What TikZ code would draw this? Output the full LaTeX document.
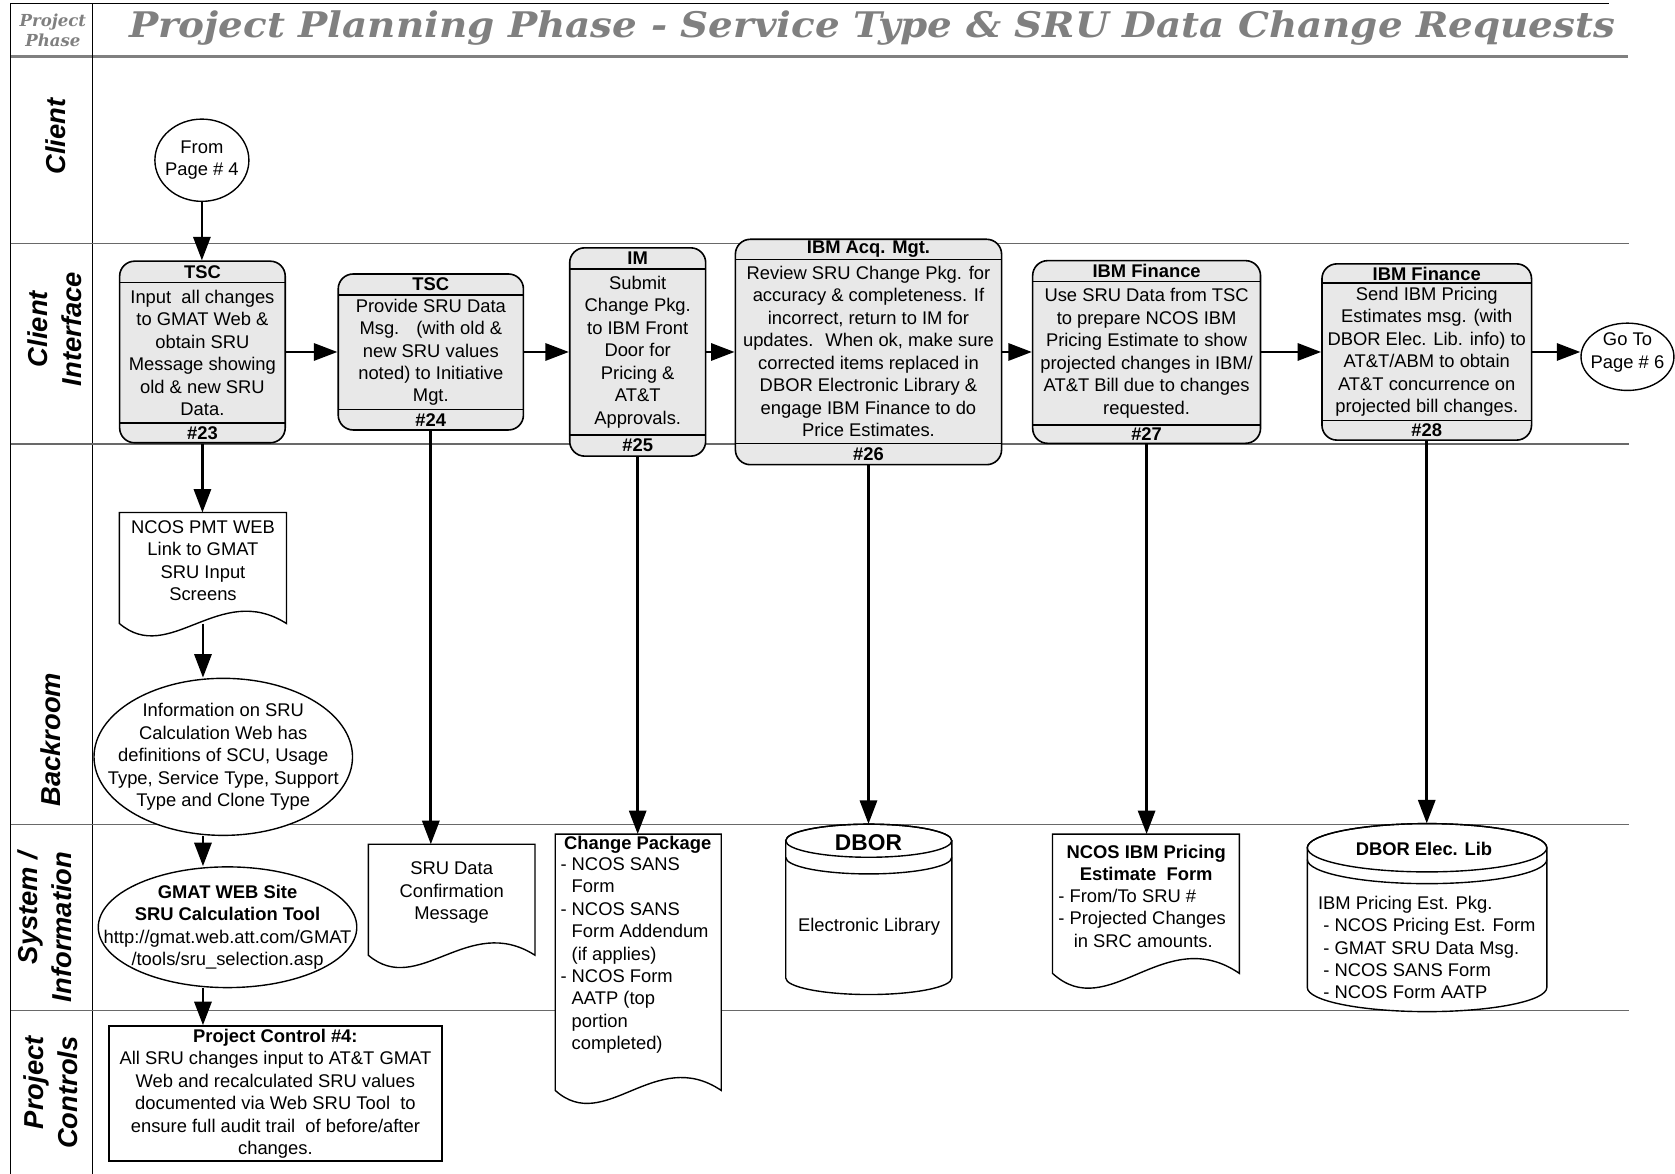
\documentclass[tikz,border=0pt]{standalone}
\usepackage{fontspec}
\setmainfont{Liberation Sans}
\newfontfamily\titlefont{DejaVu Serif}
\usepackage{xcolor}
\usepackage{graphicx}
\usetikzlibrary{
    arrows.meta,
    calc,
    fit,
    positioning,
    shapes.geometric
}
\definecolor{boxgray}{RGB}{232,232,232}
\definecolor{titlegray}{RGB}{128,128,128}
\definecolor{lanegray}{RGB}{105,105,105}
\newcommand{\procbox}[9]{
    \node[procbox, fit={(#2, #3) (#4, #5)}] (p#1) {};
    \draw[boxline] (#2, #6) -- (#4, #6) (#2, #7) -- (#4, #7);
    \node[txtbold] (p#1-h) at ({(#2+#4)/2}, {(#3+#6)/2}) {#8};
    \node[txt, align=center] (p#1-b) at ({(#2+#4)/2}, {(#6+#7)/2}) {#9};
    \node[txtbold] (p#1-n) at ({(#2+#4)/2}, {(#7+#5)/2}) {\##1};
}
\newcommand{\docshape}[6]{
    \node[fit={(#2, #3) (#4, #5)}, inner sep=0pt] (#1) {};
    \draw[shapeline, fill=white] (#1.south west) -- (#1.north west) -- (#1.north east) -- (#1.south east)
        .. controls ($(#1.south east)!0.4!(#1.south west) + (0, #6)$) and ($(#1.south east)!0.7!(#1.south west) + (0, -#6)$) .. (#1.south west) -- cycle;
}
\newcommand{\dbshape}[7]{
    \node[fit={(#2, #3) (#4, #5)}, inner sep=0pt] (#1) {};
    \draw[shapeline, fill=white] ({#2}, {#3-#6}) -- ({#2}, {#5+#6})
        arc[start angle=180, end angle=360, x radius={(#4-#2)/2}, y radius=#6] -- ({#4}, {#3-#6})
        arc[start angle=0, end angle=180, x radius={(#4-#2)/2}, y radius=#6] -- cycle;
    \draw[shapeline] ({(#2+#4)/2}, {#3-#6}) ellipse [x radius={(#4-#2)/2}, y radius=#6];
    \draw[shapeline] ({#2}, {#3-#6-#7}) arc[start angle=180, end angle=360, x radius={(#4-#2)/2}, y radius=#6];
}

\begin{document}
\begin{tikzpicture}[x=1pt, y=1pt,
    txt/.style={font=\fontsize{17.2}{21}\selectfont, inner sep=0pt},
    txtbold/.style={font=\fontsize{17.2}{21}\selectfont\bfseries, inner sep=0pt},
    procbox/.style={draw, line width=1.5pt, rounded corners=14pt, fill=boxgray, inner sep=0pt},
    boxline/.style={line width=1.5pt},
    shapeline/.style={line width=1.3pt},
    terminal/.style={draw, ellipse, line width=1.3pt, fill=white, inner sep=0pt},
    flow/.style={line width=2.6pt, -{Triangle[length=22pt, width=16pt]}},
    lane/.style={line width=1.3pt, lanegray},
    lanetext/.style={font=\fontsize{25.6}{32}\selectfont\bfseries\itshape, rotate=90, inner sep=0pt}
]
    \useasboundingbox (0, 0) rectangle (1568, -1099);
    \draw[line width=1pt] (10, -3) -- (1506, -3);
    \draw[line width=3pt, titlegray] (10, -53) -- (1524, -53);
    \draw[line width=1pt] (10, -3) -- (10, -1099) (87, -3) -- (87, -1099);
    \foreach \y in {227.8, 415.7, 772, 946}
        \draw[lane] (10, -\y) -- (1525, -\y);

    \node[font=\titlefont\fontsize{33}{38}\selectfont\bfseries\itshape, text=titlegray, anchor=base, inner sep=0pt] (title) at (816.5, -35) {\scalebox{1.103}[1]{Project Planning Phase - Service Type \& SRU Data Change Requests}};
    \node[font=\titlefont\fontsize{15.5}{18.7}\selectfont\bfseries\itshape, text=titlegray, align=center, inner sep=0pt] (phase) at (49.5, -28) {Project\\Phase};

    \node[lanetext] (l-client) at (52, -128) {Client};
    \node[lanetext, align=center] (l-ci) at (51, -308) {Client\\Interface};
    \node[lanetext] (l-back) at (47.6, -692.5) {Backroom};
    \node[lanetext, align=right] (l-sys) at (42, -867.7) {System /\\Information};
    \node[lanetext, align=right] (l-pc) at (47.6, -1022.8) {Project\\Controls};

    \node[terminal, minimum width=88, minimum height=77] (from) at (189, -150) {};
    \node[txt, align=center] (from-t) at (from) {From\\Page \# 4};
    \node[terminal, minimum width=87, minimum height=63] (goto) at (1523.5, -334) {};
    \node[txt, align=center] (goto-t) at ($(goto) + (0, 4)$) {Go To\\Page \# 6};

    \procbox{23}{112}{-244.5}{267}{-414.5}{-264.5}{-396}{TSC}{Input~ all changes\\to GMAT Web \&\\obtain SRU\\Message showing\\old \& new SRU\\Data.}
    \procbox{24}{316.6}{-256.5}{490}{-402.5}{-276}{-383.5}{TSC}{Provide SRU Data\\Msg.~~ (with old \&\\new SRU values\\noted) to Initiative\\Mgt.}
    \procbox{25}{533.3}{-232}{660.6}{-427}{-252}{-407}{IM}{Submit\\Change Pkg.\\to IBM Front\\Door for\\Pricing \&\\AT\&T\\Approvals.}
    \procbox{26}{688.4}{-224}{937.6}{-435}{-243}{-415}{IBM Acq. Mgt.}{Review SRU Change Pkg. for\\accuracy \& completeness. If\\incorrect, return to IM for\\updates.~ When ok, make sure\\corrected items replaced in\\DBOR Electronic Library \&\\engage IBM Finance to do\\Price Estimates.}
    \procbox{27}{966.7}{-244}{1180}{-415}{-263.5}{-398}{IBM Finance}{Use SRU Data from TSC\\to prepare NCOS IBM\\Pricing Estimate to show\\projected changes in IBM/\\AT\&T Bill due to changes\\requested.}
    \procbox{28}{1237.5}{-247}{1433.7}{-412}{-265}{-393.5}{IBM Finance}{Send IBM Pricing\\Estimates msg. (with\\DBOR Elec. Lib. info) to\\AT\&T/ABM to obtain\\AT\&T concurrence on\\projected bill changes.}

    \docshape{pmtweb}{112}{-480}{268}{-583.5}{40}
    \node[txt, align=center] (pmtweb-t) at ($(pmtweb.north) + (0, -45)$) {NCOS PMT WEB\\Link to GMAT\\SRU Input\\Screens};
    \node[terminal, minimum width=242, minimum height=147] (info) at (209, -708.5) {};
    \node[txt, align=center] (info-t) at (info) {Information on SRU\\Calculation Web has\\definitions of SCU, Usage\\Type, Service Type, Support\\Type and Clone Type};
    \node[terminal, minimum width=242, minimum height=113] (gmat) at (213, -868) {};
    \node[txt, align=center] (gmat-t) at (gmat) {\textbf{GMAT WEB Site}\\\textbf{SRU Calculation Tool}\\http://gmat.web.att.com/GMAT\\/tools/sru\_selection.asp};
    \node[draw, line width=2pt, fill=white, inner sep=0pt, fit={(102, -960.7) (413.6, -1087)}] (pc) {};
    \node[txt, align=center] (pc-t) at (pc) {\textbf{Project Control \#4:}\\All SRU changes input to AT\&T GMAT\\Web and recalculated SRU values\\documented via Web SRU Tool~ to\\ensure full audit trail~ of before/after\\changes.};

    \docshape{confmsg}{345}{-790.5}{500.6}{-894}{40}
    \node[txt, align=center] (confmsg-t) at ($(confmsg.north) + (0, -45.4)$) {SRU Data\\Confirmation\\Message};
    \docshape{chgpkg}{520}{-781}{675}{-1020.6}{42}
    \node[txtbold] (chgpkg-h) at (597, -791.2) {Change Package};
    \node[txt, align=left, anchor=west] (chgpkg-t) at (524.5, -894.5) {- NCOS SANS\\\phantom{- }Form\\- NCOS SANS\\\phantom{- }Form Addendum\\\phantom{- }(if applies)\\- NCOS Form\\\phantom{- }AATP (top\\\phantom{- }portion\\\phantom{- }completed)};
    \dbshape{dbor}{735.5}{-771.5}{891}{-931}{15.5}{15.6}
    \node[font=\fontsize{21.3}{24}\selectfont\bfseries, inner sep=0pt] (dbor-h) at (813, -789) {DBOR};
    \node[txt] (dbor-t) at (813.5, -867.7) {Electronic Library};
    \docshape{pricefrm}{985.5}{-781}{1160}{-911}{48}
    \node[txtbold, align=center] (pricefrm-h) at (1073, -808) {NCOS IBM Pricing\\Estimate~ Form};
    \node[txt, align=left, anchor=west] (pricefrm-t) at (990.5, -859.5) {- From/To SRU \#\\- Projected Changes\\\hspace*{14.5pt}in SRC amounts.};
    \dbshape{dborlib}{1223.8}{-771}{1448}{-947}{22.6}{11}
    \node[txtbold] (dborlib-h) at (1333, -794.3) {DBOR Elec. Lib};
    \node[txt, align=left, anchor=west] (dborlib-t) at (1233.7, -887) {IBM Pricing Est. Pkg.\\\hspace*{5pt}- NCOS Pricing Est. Form\\\hspace*{5pt}- GMAT SRU Data Msg.\\\hspace*{5pt}- NCOS SANS Form\\\hspace*{5pt}- NCOS Form AATP};

    \draw[flow] (from.south) -- (from.south |- p23.north);
    \draw[flow] (p23.east) -- (p24.west);
    \draw[flow] (p24.east) -- (p25.west);
    \draw[flow] (p25.east) -- (p26.west);
    \draw[flow] (p26.east) -- (p27.west);
    \draw[flow] (p27.east) -- (p28.west);
    \draw[flow] (p28.east) -- (p28.east -| goto.west);
    \draw[flow] (p23.south) -- (p23.south |- pmtweb.north);
    \draw[flow] (pmtweb.south) -- (pmtweb.south |- info.north);
    \draw[flow] (pmtweb.south |- info.south) -- (pmtweb.south |- gmat.north);
    \draw[flow] (pmtweb.south |- gmat.south) -- (pmtweb.south |- pc.north);
    \draw[flow] (p24.south) -- (p24.south |- confmsg.north);
    \draw[flow] (p25.south) -- (p25.south |- chgpkg.north);
    \draw[flow] (p26.south) -- (p26.south |- dbor.north);
    \draw[flow] (p27.south) -- (p27.south |- pricefrm.north);
    \draw[flow] (p28.south) -- (p28.south |- dborlib.north);
\end{tikzpicture}
\end{document}
